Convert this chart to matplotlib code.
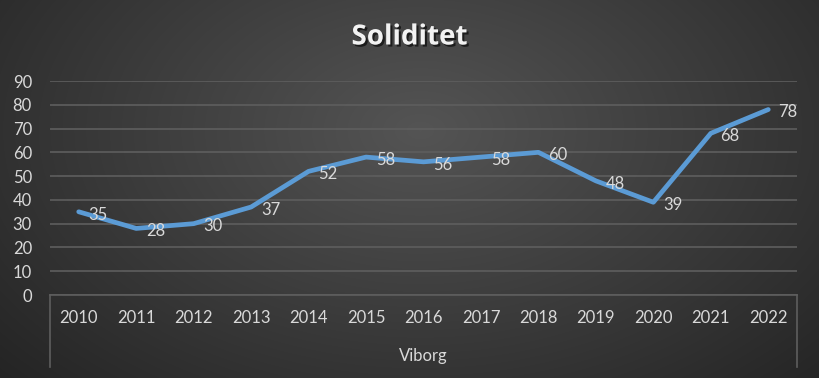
import numpy as np
import matplotlib.pyplot as plt
import matplotlib.patheffects as pe

years = ["2010", "2011", "2012", "2013", "2014", "2015", "2016",
         "2017", "2018", "2019", "2020", "2021", "2022"]
soliditet = [35, 28, 30, 37, 52, 58, 56, 58, 60, 48, 39, 68, 78]
group_label = "Viborg"
title = "Soliditet"

txt = "#d9d9d9"
grid = "#5e5e5e"
line_color = "#5b9bd5"

plt.rcParams["font.family"] = ["Lato", "DejaVu Sans"]

fig = plt.figure(figsize=(8.19, 3.78), dpi=100)

# radial gradient background
bg = fig.add_axes([0, 0, 1, 1], zorder=-10)
yy, xx = np.mgrid[0:378, 0:819]
r = np.sqrt(((xx - 420) / 560.0) ** 2 + ((yy - 130) / 360.0) ** 2)
r = np.clip(r, 0, 1)
val = 0.33 - (0.33 - 0.145) * r
bg.imshow(np.dstack([val, val, val]), aspect="auto", extent=[0, 1, 0, 1])
bg.axis("off")

ax = fig.add_axes([50 / 819, 1 - 295 / 378, 747 / 819, 214 / 378])
ax.patch.set_alpha(0)
x = np.arange(len(years))
ax.plot(x, soliditet, color=line_color, lw=3.4, solid_capstyle="round",
        solid_joinstyle="round", zorder=3)
for xi, v in zip(x, soliditet):
    ax.annotate(str(v), (xi, v), xytext=(7, -2), textcoords="offset points",
                ha="left", va="center", color=txt, fontsize=12, zorder=4)

ax.set_xlim(-0.5, len(years) - 0.5)
ax.set_ylim(0, 90)
ax.set_yticks(range(0, 91, 10))
ax.set_yticklabels([str(t) for t in range(0, 91, 10)], color=txt, fontsize=12)
ax.yaxis.grid(True, color=grid, lw=1.2)
ax.set_axisbelow(True)
ax.tick_params(axis="y", length=0, pad=13)
ax.set_xticks(x)
ax.set_xticklabels(years, color=txt, fontsize=12)
ax.tick_params(axis="x", length=0, pad=11)
for s in ["top", "right", "left"]:
    ax.spines[s].set_visible(False)
ax.spines["bottom"].set_color(grid)
ax.spines["bottom"].set_linewidth(1.2)

# multi-level category axis borders
for xv in [50 / 819, 797 / 819]:
    fig.add_artist(plt.Line2D([xv, xv], [1 - 295 / 378, 1 - 367 / 378],
                              color=grid, lw=1.2))
fig.text(423 / 819, 1 - 356 / 378, group_label, color=txt, fontsize=12,
         ha="center", va="center")

fig.text(0.5, 1 - 37 / 378, title, color="#f2f2f2", fontsize=20,
         fontweight="bold", family=["Open Sans", "DejaVu Sans"],
         ha="center", va="center",
         path_effects=[pe.withSimplePatchShadow(offset=(1.5, -1.5),
                                                shadow_rgbFace="black",
                                                alpha=0.6)])

fig.savefig("out.png", dpi=100)
